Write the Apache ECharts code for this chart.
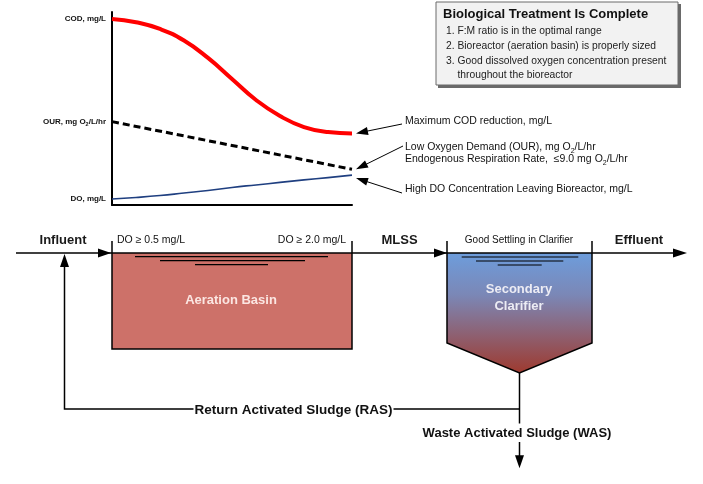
<!DOCTYPE html>
<html><head><meta charset="utf-8">
<script src="https://cdn.jsdelivr.net/npm/echarts@6/dist/echarts.min.js"></script>
<style>html,body{margin:0;padding:0;background:#fff}#c{width:703px;height:484px}</style>
</head><body><div id="c"></div>
<script>
// ---- data (position along the bioreactor 0-100, relative level 0-100) ----
const codData = [[0,96.4],[10,94.7],[20,91.2],[30,85.2],[40,76.2],[50,65.3],[60,54.4],[70,46.1],[80,40.4],[90,37.8],[100,37.1]];
const ourData = [[0,43.2],[100,18.5]];
const doData  = [[0,3.1],[10,3.9],[20,4.9],[30,6.2],[40,7.5],[50,9.1],[60,10.4],[70,11.7],[80,13.0],[90,14.2],[100,15.5]];
const yLabels = ['COD, mg/L', 'OUR, mg O{sub|2}/L/hr', 'DO, mg/L'];
const boxTitle = 'Biological Treatment Is Complete';
const boxItems = ['1. F:M ratio is in the optimal range', '2. Bioreactor (aeration basin) is properly sized', '3. Good dissolved oxygen concentration present', '    throughout the bioreactor'];
const noteCOD = 'Maximum COD reduction, mg/L';
const noteOUR = ['Low Oxygen Demand (OUR), mg O{sub|2}/L/hr', 'Endogenous Respiration Rate,  \u22649.0 mg O{sub|2}/L/hr'];
const noteDO = 'High DO Concentration Leaving Bioreactor, mg/L';

const FF = '"Liberation Sans", Arial, Helvetica, sans-serif';
const chart = echarts.init(document.getElementById('c'), null, {renderer:'canvas'});
const startVals = [codData[0][1], ourData[0][1], doData[0][1]];

chart.setOption({
  animation:false,
  backgroundColor:'#fff',
  grid:{left:112, top:12, width:240, height:193, containLabel:false},
  xAxis:{type:'value', min:0, max:100, axisLine:{show:true, onZero:false, lineStyle:{color:'#000', width:2}}, axisTick:{show:false}, axisLabel:{show:false}, splitLine:{show:false}},
  yAxis:{type:'value', min:0, max:100, axisLine:{show:true, lineStyle:{color:'#000', width:2}}, axisTick:{show:false}, splitLine:{show:false},
    axisLabel:{show:true, customValues:startVals, margin:6, fontFamily:FF, fontSize:8, fontWeight:'bold', color:'#111',
      formatter:function(v){ let best=0,bd=1e9; startVals.forEach((s,i)=>{const d=Math.abs(s-v); if(d<bd){bd=d;best=i;}}); return yLabels[best]; },
      rich:{sub:{fontSize:5.5, fontWeight:'bold', fontFamily:FF, color:'#111', verticalAlign:'bottom', padding:[5,0,0,0]}}}},
  series:[
    {type:'line', data:codData, smooth:true, symbol:'none', lineStyle:{color:'#ff0000', width:4}},
    {type:'line', data:ourData, symbol:'none', lineStyle:{color:'#000', width:3, type:[7,4]}},
    {type:'line', data:doData, smooth:true, symbol:'none', lineStyle:{color:'#1f3f80', width:1.6}}
  ]
});

function line(pts, lw){ return {type:'polyline', silent:true, z:10, shape:{points:pts}, style:{stroke:'#000', lineWidth:lw||1.5, fill:null}}; }
function head(tip, from, len, hw){
  const dx=tip[0]-from[0], dy=tip[1]-from[1], d=Math.hypot(dx,dy), ux=dx/d, uy=dy/d;
  const bx=tip[0]-ux*len, by=tip[1]-uy*len, px=-uy, py=ux;
  return {type:'polygon', silent:true, z:12, shape:{points:[tip,[bx+px*hw,by+py*hw],[bx-px*hw,by-py*hw]]}, style:{fill:'#000', stroke:null}};
}
function arrow(from, tip, len, hw){
  const dx=tip[0]-from[0], dy=tip[1]-from[1], d=Math.hypot(dx,dy);
  const base=[tip[0]-dx/d*(len-1), tip[1]-dy/d*(len-1)];
  return [line([from, base], 1), head(tip, from, len, hw)];
}
function txt(x,y,s,opt){
  opt=opt||{};
  return {type:'text', silent:true, z:20, style:Object.assign({x:x, y:y, text:s, fontFamily:FF, fontSize:opt.size||11, fontWeight:opt.bold?'bold':'normal',
    fill:opt.color||'#111', align:opt.align||'left', verticalAlign:'middle',
    rich:{sub:{fontSize:7, fontFamily:FF, fill:opt.color||'#111', verticalAlign:'bottom', padding:[7,0,0,0]}}}, opt.extra||{})};
}

const tipCOD = chart.convertToPixel({xAxisIndex:0,yAxisIndex:0}, codData[codData.length-1]);
const tipOUR = chart.convertToPixel({xAxisIndex:0,yAxisIndex:0}, ourData[ourData.length-1]);
const tipDO  = chart.convertToPixel({xAxisIndex:0,yAxisIndex:0}, doData[doData.length-1]);

const g = [];
// info box
g.push({type:'rect', silent:true, z:5, shape:{x:438,y:4,width:243,height:84}, style:{fill:'#6a6a6a'}});
g.push({type:'rect', silent:true, z:6, shape:{x:436,y:2,width:242,height:83}, style:{fill:'#f2f2f2', stroke:'#6a6a6a', lineWidth:1}});
g.push(txt(443,14.5,boxTitle,{bold:true,size:13,color:'#111'}));
boxItems.forEach((s,i)=>{ g.push(txt(446,[31,46,61,75][i],s,{size:10.3,color:'#222'})); });

// annotations
g.push(...arrow([402,124],[tipCOD[0]+4,tipCOD[1]],12,4));
g.push(...arrow([403,146],[tipOUR[0]+4,tipOUR[1]],12,4));
g.push(...arrow([402,193],[tipDO[0]+4,tipDO[1]+3],12,4));
g.push(txt(405,121,noteCOD,{size:10.5,color:'#111'}));
g.push(txt(405,147.5,noteOUR[0],{size:10.5,color:'#111'}));
g.push(txt(405,159.5,noteOUR[1],{size:10.5,color:'#111'}));
g.push(txt(405,189,noteDO,{size:10.5,color:'#111'}));

// aeration basin
g.push({type:'rect', silent:true, z:4, shape:{x:112,y:253,width:240,height:96}, style:{fill:'#cd7169'}});
g.push(line([[112,241],[112,349],[352,349],[352,241]],1.5));
g.push(line([[135,256.7],[328,256.7]],1.2), line([[160,260.7],[305,260.7]],1.2), line([[195,264.7],[268,264.7]],1.2));
g.push(txt(231,300,'Aeration Basin',{bold:true,size:13,color:'#fbe6e2',align:'center'}));

// secondary clarifier
g.push({type:'polygon', silent:true, z:4, shape:{points:[[447,253],[592,253],[592,343],[519.5,373],[447,343]]},
  style:{fill:new echarts.graphic.LinearGradient(0,0,0,1,[{offset:0,color:'#6d9ddc'},{offset:0.35,color:'#7b87b6'},{offset:0.65,color:'#8c6478'},{offset:1,color:'#9e3a2f'}])}});
g.push(line([[447,241],[447,343],[519.5,373],[592,343],[592,241]],1.5));
g.push(line([[461.7,257],[578.3,257]],1.2), line([[476,261],[563.3,261]],1.2), line([[497.7,265],[541.7,265]],1.2));
g.push(txt(519,289.5,'Secondary',{bold:true,size:13,color:'#ececf4',align:'center'}));
g.push(txt(519,306,'Clarifier',{bold:true,size:13,color:'#ececf4',align:'center'}));

// main flow line
g.push(line([[16,253],[676,253]],1.5));
g.push(head([111,253],[16,253],13,4.5));
g.push(head([447,253],[352,253],13,4.5));
g.push(head([687,253],[592,253],14,4.5));

// RAS / WAS
g.push(line([[64.5,266],[64.5,409],[519.5,409]],1.5));
g.push(head([64.5,254],[64.5,409],13,4.5));
g.push(line([[519.5,373],[519.5,423.5]],1.5));
g.push(line([[519.5,442],[519.5,456]],1.5));
g.push(head([519.5,468.3],[519.5,442],13,4.5));
g.push(txt(293.5,410,'Return Activated Sludge (RAS)',{bold:true,size:13.5,color:'#111',align:'center',extra:{backgroundColor:'#fff',padding:[0,1]}}));
g.push(txt(517,433,'Waste Activated Sludge (WAS)',{bold:true,size:13,color:'#111',align:'center'}));

// flow labels
g.push(txt(63,240,'Influent',{bold:true,size:13,color:'#1a1a1a',align:'center'}));
g.push(txt(117,240,'DO \u2265 0.5 mg/L',{size:10.5,color:'#111'}));
g.push(txt(346,240,'DO \u2265 2.0 mg/L',{size:10.5,color:'#111',align:'right'}));
g.push(txt(399.5,240,'MLSS',{bold:true,size:13,color:'#1a1a1a',align:'center'}));
g.push(txt(519,240,'Good Settling in Clarifier',{size:10,color:'#111',align:'center'}));
g.push(txt(639,240,'Effluent',{bold:true,size:13,color:'#1a1a1a',align:'center'}));

chart.setOption({graphic:{elements:g}});
</script></body></html>
